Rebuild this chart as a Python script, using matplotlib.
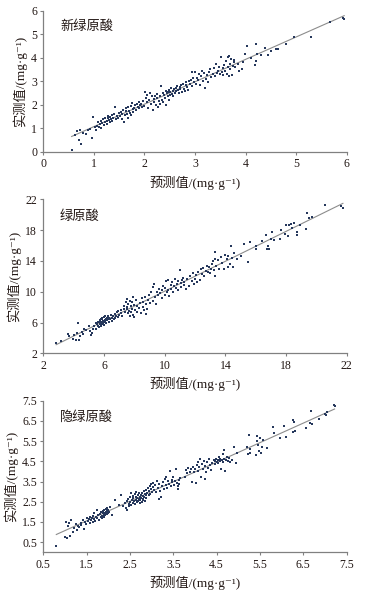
import numpy as np
import matplotlib
matplotlib.use('Agg')
import matplotlib.pyplot as plt

plt.rcParams['font.family'] = ['Liberation Serif', 'Noto Sans CJK SC', 'DejaVu Serif']
plt.rcParams['axes.unicode_minus'] = False

# panel 1: 新绿原酸
pred1 = [0.56, 0.62, 0.67, 0.70, 0.73, 0.74, 0.79, 0.84, 0.89, 0.93, 0.96, 0.99,
         1.02, 1.05, 1.07, 1.09, 1.10, 1.12, 1.14, 1.15, 1.17, 1.18, 1.20, 1.22, 1.23, 1.25, 1.26,
         1.27, 1.28, 1.30, 1.31, 1.32, 1.33, 1.35, 1.36, 1.38, 1.40, 1.42, 1.43, 1.45, 1.47, 1.49,
         1.51, 1.53, 1.55, 1.56, 1.58, 1.60, 1.61, 1.63, 1.64, 1.66, 1.67, 1.68, 1.70, 1.71, 1.73,
         1.74, 1.75, 1.77, 1.78, 1.80, 1.82, 1.84, 1.85, 1.87, 1.89, 1.90, 1.92, 1.94, 1.96, 1.98,
         2.00, 2.02, 2.03, 2.05, 2.06, 2.08, 2.10, 2.11, 2.13, 2.15, 2.16, 2.18, 2.19, 2.21, 2.22,
         2.24, 2.25, 2.26, 2.28, 2.30, 2.31, 2.33, 2.34, 2.36, 2.37, 2.39, 2.40, 2.42, 2.43, 2.45,
         2.46, 2.47, 2.48, 2.49, 2.50,
         2.51, 2.53, 2.54, 2.56, 2.57, 2.59, 2.60, 2.62, 2.63, 2.65, 2.66, 2.68, 2.70, 2.71, 2.73,
         2.74, 2.76, 2.78, 2.80, 2.82, 2.83, 2.85, 2.87, 2.88, 2.90, 2.92, 2.94, 2.95, 2.97, 2.99,
         3.00, 3.02, 3.04, 3.06, 3.08, 3.10, 3.12, 3.14, 3.16, 3.18, 3.20, 3.22, 3.24, 3.26, 3.28,
         3.30, 3.32, 3.35, 3.37, 3.40, 3.42, 3.44, 3.46, 3.48, 3.50,
         3.52, 3.53, 3.55, 3.56, 3.58, 3.60, 3.62, 3.63, 3.65, 3.66, 3.67, 3.68, 3.69, 3.70, 3.72,
         3.74, 3.75, 3.77, 3.78, 3.80, 3.85, 3.88, 3.92, 3.95, 3.98,
         4.02, 4.10, 4.18, 4.20, 4.21, 4.23, 4.30, 4.38, 4.45, 4.50, 4.60, 4.65, 4.80, 4.95, 5.30,
         5.67, 5.93, 5.95]
meas1 = [0.07, 0.72, 0.89, 0.50, 0.92, 0.31, 0.81, 0.74, 0.92, 0.98, 0.60, 1.46,
         1.04, 0.92, 1.10, 1.25, 1.05, 1.18, 1.32, 1.00, 1.22, 1.38, 1.12, 1.28, 1.45, 1.30, 1.20,
         1.42, 1.50, 1.35, 1.25, 1.48, 1.40, 1.55, 1.30, 1.45, 1.60, 1.92, 1.38, 1.52, 1.44, 1.65,
         1.50, 1.70, 1.40, 1.62, 1.78, 1.25, 1.55, 1.72, 1.85, 1.60, 1.45, 1.90, 1.75, 1.65, 1.95,
         1.55, 2.08, 1.80, 1.70, 1.88, 2.00, 1.78, 2.05, 1.92, 1.85, 2.10, 1.98, 2.02, 1.90, 2.15,
         1.95, 2.55, 2.30, 2.10, 2.40, 1.85, 2.20, 2.48, 2.05, 2.35, 1.78, 2.25, 2.12, 2.38, 2.00,
         2.28, 2.45, 1.90, 2.15, 2.35, 2.05, 2.80, 2.22, 2.50, 2.10, 2.40, 2.30, 2.60, 2.00, 2.48,
         2.35, 2.55, 2.20, 2.62, 2.42,
         2.55, 2.70, 2.45, 2.60, 2.35, 2.65, 2.50, 2.72, 2.58, 2.80, 2.62, 2.48, 2.75, 2.68, 2.82,
         2.55, 2.90, 2.65, 2.58, 2.85, 2.95, 2.75, 2.62, 3.00, 2.88, 3.05, 3.40, 2.80, 3.12, 2.95,
         3.38, 2.90, 3.15, 3.05, 3.30, 2.85, 3.20, 3.45, 3.00, 3.35, 2.70, 3.10, 3.25, 2.95, 3.40,
         3.50, 3.18, 3.30, 3.55, 3.22, 3.75, 3.35, 3.45, 3.60, 3.30,
         4.02, 3.40, 3.55, 3.25, 3.70, 3.45, 3.85, 3.30, 3.60, 4.05, 3.20, 4.08, 3.75, 3.50, 3.95,
         3.25, 3.65, 3.90, 3.80, 3.60, 3.75, 3.45, 3.50, 3.80, 4.15,
         4.50, 4.00, 3.70, 3.85, 4.60, 4.15, 4.10, 4.40, 4.10, 4.30, 4.35, 4.35, 4.60, 4.90, 4.87,
         5.50, 5.70, 5.65]

# panel 2: 绿原酸
pred2 = [2.85, 3.20, 3.60, 3.70, 3.95, 4.05, 4.15, 4.25, 4.30, 4.35, 4.45, 4.55, 4.60, 4.70,
         4.80, 5.00, 5.05, 5.15, 5.20, 5.30, 5.35, 5.45, 5.50, 5.55, 5.58,
         5.62, 5.65, 5.70, 5.72, 5.75, 5.78, 5.80, 5.82, 5.85, 5.88, 5.90, 5.92, 5.95, 5.98, 6.00,
         6.02, 6.05, 6.08, 6.10, 6.12, 6.15, 6.18, 6.20, 6.25, 6.28, 6.30, 6.35, 6.40, 6.45, 6.50,
         6.55, 6.60, 6.65, 6.70, 6.75, 6.80, 6.85, 6.90, 6.95, 7.00,
         7.10, 7.15, 7.20, 7.30, 7.35, 7.40, 7.45, 7.50, 7.52, 7.55, 7.58, 7.60, 7.65, 7.70, 7.72,
         7.75, 7.80, 7.82, 7.85, 7.90, 7.92, 7.95, 8.00, 8.05, 8.10, 8.15, 8.20, 8.30, 8.40, 8.45,
         8.50, 8.55, 8.60, 8.65, 8.70, 8.75, 8.80, 8.85, 8.90, 8.95,
         9.05, 9.10, 9.20, 9.25, 9.30, 9.35, 9.40, 9.50, 9.55, 9.60, 9.70, 9.80, 9.85, 9.90, 10.00,
         10.05, 10.10, 10.15, 10.20, 10.25, 10.30, 10.40, 10.45, 10.50, 10.55, 10.60, 10.70, 10.75,
         10.80, 10.85, 10.90, 11.00, 11.05, 11.10, 11.15, 11.20, 11.25, 11.30, 11.40, 11.50, 11.60,
         11.70, 11.80, 11.90, 11.95,
         12.00, 12.05, 12.10, 12.20, 12.30, 12.40, 12.45, 12.50, 12.60, 12.70, 12.80, 12.85, 12.90,
         13.00, 13.05, 13.10, 13.20, 13.25, 13.30, 13.32, 13.35, 13.40, 13.50, 13.60, 13.70, 13.80,
         13.90, 14.00, 14.10, 14.15, 14.20, 14.30, 14.40, 14.45, 14.50, 14.60, 14.80, 15.00, 15.20,
         15.50,
         15.60, 16.00, 16.05, 16.40, 16.70, 16.75, 16.80, 16.90, 17.00, 17.05, 17.20, 17.60, 17.70,
         17.90, 18.00, 18.10, 18.20, 18.30, 18.40, 18.50, 18.70, 18.75, 18.90, 19.30, 19.40, 19.50,
         19.70, 20.60, 21.60, 21.75]
meas2 = [3.30, 3.60, 4.50, 4.20, 3.80, 4.35, 3.75, 4.60, 6.00, 3.70, 4.30, 4.80, 4.50, 5.20,
         5.00, 5.60, 4.90, 4.40, 4.60, 5.20, 5.50, 5.90, 5.10, 5.80, 6.10,
         5.50, 6.10, 5.40, 6.30, 5.80, 6.50, 5.60, 6.10, 6.40, 5.80, 6.60, 6.00, 6.25, 5.70, 6.70,
         6.10, 6.35, 6.80, 6.20, 6.50, 5.90, 6.60, 6.30, 6.90, 6.45, 6.10, 6.65, 6.40, 7.00, 6.55,
         6.20, 6.80, 6.50, 7.10, 6.60, 6.90, 7.30, 6.70, 7.50, 7.00,
         7.60, 7.20, 6.90, 7.80, 8.20, 7.40, 8.60, 9.00, 7.70, 8.00, 7.20, 8.40, 7.50, 8.80, 6.90,
         8.10, 7.30, 8.60, 7.80, 9.30, 7.00, 8.30, 6.70, 7.60, 8.90, 7.40, 8.20, 7.90, 8.50, 7.20,
         9.20, 8.00, 8.70, 7.60, 9.30, 7.10, 8.40, 7.70, 8.90, 9.60,
         8.50, 9.90, 8.80, 10.60, 11.00, 9.30, 8.40, 10.00, 9.60, 10.40, 9.80, 10.20, 9.20, 10.80, 9.60,
         10.50, 11.40, 9.90, 11.50, 10.20, 9.40, 10.90, 10.40, 11.20, 10.00, 10.70, 11.60, 10.50,
         11.00, 11.40, 10.20, 12.80, 11.10, 10.60, 11.50, 11.80, 10.90, 11.30, 10.40, 11.60, 10.80,
         12.10, 11.40, 12.40, 11.00,
         11.60, 12.20, 11.20, 12.60, 11.50, 12.90, 12.30, 13.10, 12.00, 12.70, 13.40, 12.50, 13.20,
         12.40, 13.00, 13.60, 14.00, 12.80, 15.20, 14.30, 12.00, 13.40, 14.10, 13.00, 14.50, 13.70,
         12.90, 14.80, 14.20, 13.20, 14.60, 13.60, 15.90, 14.40, 13.20, 15.00, 14.30, 14.70, 16.20,
         13.80,
         16.50, 15.60, 15.90, 16.60, 17.40, 15.50, 15.90, 15.50, 16.80, 17.80, 16.70, 16.80, 18.00,
         17.50, 18.60, 17.20, 18.60, 18.80, 18.30, 18.90, 17.40, 17.80, 18.60, 18.20, 20.20, 19.60,
         19.70, 21.30, 21.10, 20.90]

# panel 3: 隐绿原酸
pred3 = [0.80, 1.00, 1.02, 1.05, 1.08, 1.10, 1.12, 1.15, 1.18, 1.20, 1.25, 1.28, 1.30, 1.33,
         1.36, 1.38, 1.42, 1.44, 1.46, 1.48,
         1.50, 1.52, 1.55, 1.57, 1.58, 1.60, 1.62, 1.64, 1.65, 1.67, 1.68, 1.70, 1.72, 1.73, 1.75,
         1.77, 1.78, 1.80, 1.82, 1.84, 1.85, 1.86, 1.87, 1.88, 1.89, 1.90, 1.91, 1.92, 1.93, 1.94,
         1.95, 1.96, 1.97, 1.98, 1.99, 2.00, 2.02, 2.05, 2.08, 2.15,
         2.25, 2.30, 2.35, 2.38, 2.40, 2.42, 2.44, 2.45, 2.47, 2.48, 2.50, 2.51, 2.52, 2.53, 2.55,
         2.56, 2.57, 2.58, 2.60, 2.61, 2.62, 2.63, 2.64, 2.65, 2.66, 2.67, 2.68, 2.69, 2.70, 2.71,
         2.72, 2.73, 2.74, 2.75, 2.76, 2.77, 2.78, 2.79, 2.80, 2.81, 2.82, 2.83, 2.84, 2.85, 2.86,
         2.87, 2.88, 2.90, 2.92, 2.94, 2.95, 2.96, 2.97, 2.98, 2.99,
         3.00, 3.02, 3.04, 3.06, 3.08, 3.10, 3.12, 3.14, 3.16, 3.18, 3.20, 3.22, 3.24, 3.26, 3.28,
         3.30, 3.32, 3.34, 3.36, 3.38, 3.40, 3.42, 3.44, 3.46, 3.48, 3.50, 3.52, 3.54, 3.56, 3.58,
         3.60, 3.61, 3.62, 3.64, 3.66,
         3.78, 3.80, 3.82, 3.85, 3.88, 3.90, 3.92, 3.95, 3.97, 4.00, 4.02, 4.04, 4.06, 4.08, 4.10,
         4.12, 4.14, 4.16, 4.18, 4.20, 4.22, 4.24, 4.26, 4.28, 4.30, 4.32, 4.35, 4.38, 4.40, 4.43,
         4.45, 4.47, 4.48, 4.50, 4.52, 4.54, 4.55, 4.57, 4.58, 4.60, 4.62, 4.64, 4.65, 4.66, 4.68,
         4.70, 4.72, 4.74, 4.76, 4.78, 4.80, 4.85, 4.90, 4.95, 4.98,
         5.20, 5.22, 5.24, 5.26, 5.28, 5.40, 5.42, 5.44, 5.46, 5.48, 5.50, 5.52, 5.54, 5.56, 5.65,
         5.80, 5.82, 5.95, 6.05, 6.10, 6.25, 6.27, 6.28, 6.30, 6.55, 6.65, 6.68, 6.70, 6.85, 7.00,
         7.02, 7.05, 7.20, 7.22]
meas3 = [0.30, 0.75, 1.50, 0.70, 1.30, 1.45, 0.80, 1.60, 1.00, 1.20, 1.40, 1.10, 1.30, 1.25,
         1.45, 1.35, 1.60, 1.15, 1.50, 1.40,
         1.70, 1.55, 1.65, 1.45, 1.75, 1.60, 1.70, 1.50, 1.80, 1.65, 1.95, 1.55, 1.75, 2.10, 1.70,
         1.85, 1.60, 1.90, 1.75, 2.00, 1.80, 1.70, 1.95, 2.05, 1.85, 1.75, 2.10, 1.95, 1.85, 2.00,
         2.15, 1.90, 2.05, 2.20, 1.95, 2.10, 2.00, 2.25, 1.85, 2.60,
         2.35, 2.85, 2.30, 2.45, 2.20, 2.55, 2.10, 2.65, 2.40, 2.30, 2.75, 2.50, 2.95, 2.35, 2.60,
         2.80, 2.45, 2.70, 2.55, 2.90, 2.40, 2.75, 2.60, 3.00, 2.50, 2.70, 2.85, 2.55, 2.65, 2.95,
         2.45, 2.75, 2.60, 2.85, 2.70, 2.50, 2.95, 2.65, 2.80, 2.60, 3.05, 2.75, 2.90, 2.55, 2.85,
         3.10, 2.70, 2.95, 3.20, 2.85, 3.05, 3.30, 2.90, 3.15, 3.40,
         3.00, 3.25, 3.45, 3.10, 3.35, 3.00, 3.55, 3.20, 2.65, 3.40, 3.05, 2.75, 3.30, 3.50, 3.15,
         3.65, 3.35, 3.75, 3.20, 3.55, 3.40, 4.00, 3.30, 3.60, 3.50, 3.75, 3.35, 3.55, 4.10, 3.45,
         3.30, 3.15, 3.60, 3.40, 3.70,
         3.75, 4.05, 3.90, 4.15, 3.95, 4.10, 3.50, 4.20, 3.95, 4.10, 3.45, 4.30, 4.00, 4.45, 4.20,
         4.60, 3.75, 4.35, 4.10, 4.50, 3.65, 4.25, 3.95, 4.45, 4.15, 4.60, 4.30, 4.05, 4.40, 4.55,
         4.50, 4.35, 4.60, 4.45, 4.55, 4.40, 4.70, 4.50, 4.60, 4.10, 4.55, 4.85, 4.45, 5.05, 4.60,
         4.00, 4.55, 4.70, 4.50, 4.65, 4.45, 4.55, 5.20, 4.40, 4.90,
         5.20, 4.85, 5.80, 4.90, 5.10, 4.80, 5.50, 5.75, 5.30, 5.00, 5.65, 4.90, 5.20, 5.55, 5.15,
         6.20, 5.90, 5.65, 6.25, 5.70, 6.55, 5.95, 6.45, 6.00, 6.15, 6.40, 7.00, 6.35, 6.60, 6.85,
         6.80, 6.95, 7.30, 7.25]

names = ['新绿原酸', '绿原酸', '隐绿原酸']
xlims = [(0, 6), (2, 22), (0.5, 7.5)]
ylims = [(0, 6), (2, 22), (0, 7.5)]
xticks = [[0, 1, 2, 3, 4, 5, 6], [2, 6, 10, 14, 18, 22], [0.5, 1.5, 2.5, 3.5, 4.5, 5.5, 6.5, 7.5]]
yticks = [[0, 1, 2, 3, 4, 5, 6], [2, 6, 10, 14, 18, 22], [0.5, 1.5, 2.5, 3.5, 4.5, 5.5, 6.5, 7.5]]

txt = '#231815'
axcol = '#808080'
dotcol = '#26385c'

fig = plt.figure(figsize=(3.71, 5.94), dpi=100)
boxes = [[0.1167, 0.7446, 0.8178, 0.2374],
         [0.1167, 0.4052, 0.8178, 0.2593],
         [0.1167, 0.0702, 0.8178, 0.2552]]

for i, (px, py) in enumerate([(pred1, meas1), (pred2, meas2), (pred3, meas3)]):
    ax = fig.add_axes(boxes[i])
    px = np.array(px)
    py = np.array(py)
    ax.scatter(px, py, s=2.8, marker='s', color=dotcol, linewidths=0, zorder=3)
    k, b = np.polyfit(px, py, 1)
    xx = np.array([px.min(), px.max()])
    ax.plot(xx, k * xx + b, color='#8c8c8c', lw=0.8, zorder=2)
    ax.set_xlim(xlims[i])
    ax.set_ylim(ylims[i])
    ax.set_xticks(xticks[i])
    ax.set_yticks(yticks[i])
    ax.set_xticklabels([('%g' % v) for v in xticks[i]])
    ax.set_yticklabels([('%g' % v) for v in yticks[i]])
    for s in ['top', 'right']:
        ax.spines[s].set_visible(False)
    for s in ['left', 'bottom']:
        ax.spines[s].set_color(axcol)
        ax.spines[s].set_linewidth(0.9)
    ax.tick_params(direction='out', length=2.5, width=0.8, color=axcol,
                   labelsize=8.5, labelcolor=txt, pad=2)
    ax.set_xlabel('预测值/(mg·g⁻¹)', fontsize=9.5, color=txt, labelpad=4)
    ax.set_ylabel('实测值/(mg·g⁻¹)', fontsize=9.5, color=txt, labelpad=3)
    ax.text(0.055, 0.93, names[i], transform=ax.transAxes, fontsize=9.5,
            color=txt, ha='left', va='top')

fig.savefig('out.png', dpi=100)
